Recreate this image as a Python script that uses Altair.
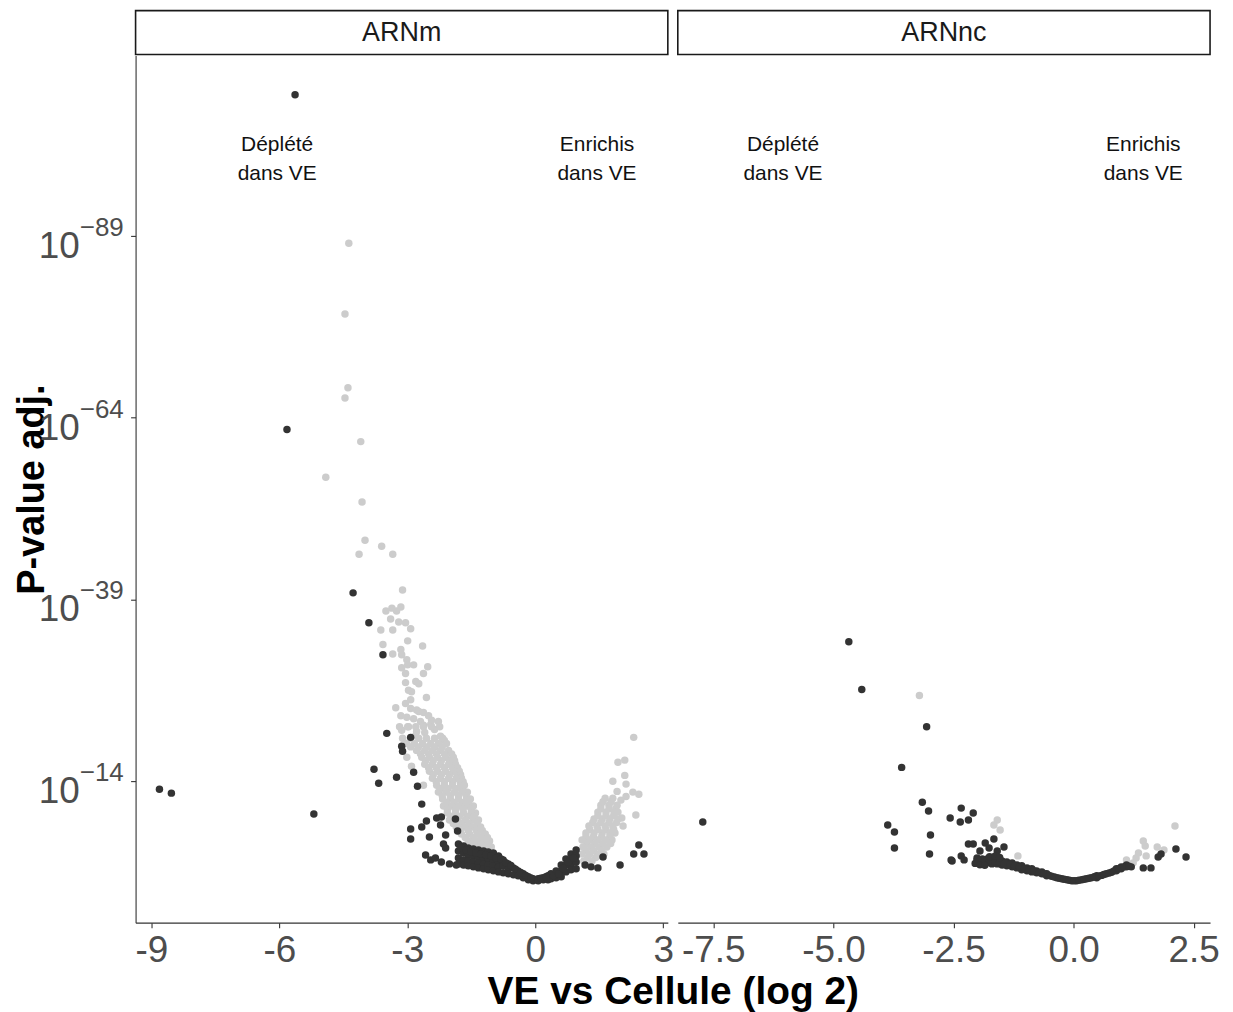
import altair as alt
import pandas as pd

# ---------------- data ----------------
panels = ["ARNm", "ARNnc"]

y_domain = [-5.45, 113.8]
y_tick_values = [14, 39, 64, 89]
y_tick_base = ["10", "10", "10", "10"]
y_tick_exp = ["\u221214", "\u221239", "\u221264", "\u221289"]

arnm_x_domain = [-9.37, 3.11]
arnm_x_ticks = [-9, -6, -3, 0, 3]
arnc_x_domain = [-8.24, 2.84]
arnc_x_ticks = [-7.5, -5.0, -2.5, 0.0, 2.5]

annot_text = ["D\u00e9pl\u00e9t\u00e9\ndans VE", "Enrichis\ndans VE"]
annot_x = [-6.05, 1.45]
annot_y = [101.5, 101.5]

x_title = "VE vs Cellule (log 2)"
y_title = "P-value adj."

# ARNm, dark points
arnm_dark = [
    (-5.63, 108.4), (-5.82, 62.36), (-8.81, 12.9), (-8.53, 12.36), (-5.19, 9.48),
    (-4.27, 39.9), (-3.90, 35.78), (-3.57, 31.4), (-3.48, 20.58), (-2.92, 20.03),
    (-3.13, 18.8), (-3.11, 18.11), (-3.78, 15.65), (-3.67, 13.73), (-3.25, 14.55),
    (-2.85, 15.23), (-2.76, 13.32), (-2.66, 10.85), (-2.55, 8.52), (-2.66, 7.70),
    (-2.92, 7.43), (-2.92, 6.06), (-2.48, 6.33), (-2.57, 3.86), (-2.45, 3.18),
    (-2.34, 3.45), (-2.20, 2.90), (-2.01, 2.63), (-1.85, 2.49), (-2.31, 8.93),
    (-2.20, 9.07), (-2.22, 7.97), (-2.10, 6.60), (-1.87, 8.79), (-1.82, 7.15),
    (-2.15, 5.37), (-2.10, 4.82),
    (1.59, 3.59), (1.99, 2.49), (2.43, 5.23), (2.31, 4.0), (2.55, 4.0),
    (1.17, 2.49), (1.31, 2.22), (1.47, 2.08),
    (-1.80, 5.37), (-1.80, 4.41), (-1.80, 3.45), (-1.80, 2.63),
    (-1.68, 5.10), (-1.68, 4.14), (-1.68, 3.18), (-1.68, 2.49),
    (-1.57, 4.82), (-1.57, 3.86), (-1.57, 3.04), (-1.57, 2.36),
    (-1.45, 4.69), (-1.45, 3.73), (-1.45, 2.90), (-1.45, 2.22),
    (-1.33, 4.55), (-1.33, 3.59), (-1.33, 2.77), (-1.33, 2.08),
    (-1.21, 4.41), (-1.21, 3.45), (-1.21, 2.63), (-1.21, 1.95),
    (-1.10, 4.27), (-1.10, 3.32), (-1.10, 2.49), (-1.10, 1.81),
    (-0.98, 4.14), (-0.98, 3.18), (-0.98, 2.36), (-0.98, 1.67),
    (-0.86, 3.73), (-0.86, 2.90), (-0.86, 2.22), (-0.86, 1.53),
    (-0.75, 3.18), (-0.75, 2.36), (-0.75, 1.40),
    (-0.63, 2.63), (-0.63, 1.95), (-0.63, 1.26),
    (-0.51, 2.08), (-0.51, 1.12), (-0.40, 1.67), (-0.40, 0.99),
    (-0.28, 1.26), (-0.28, 0.71), (-0.16, 0.85), (-0.16, 0.44),
    (-0.05, 0.58), (-0.05, 0.30), (0.07, 0.58), (0.07, 0.30),
    (0.19, 0.71), (0.19, 0.44), (0.30, 0.99), (0.30, 0.44),
    (0.37, 1.26), (0.37, 0.58), (0.49, 1.67), (0.49, 0.71),
    (0.61, 2.49), (0.61, 1.67), (0.61, 0.85),
    (0.72, 3.32), (0.72, 2.49), (0.72, 1.53),
    (0.84, 4.0), (0.84, 3.18), (0.84, 2.36), (0.84, 1.81),
    (0.96, 4.55), (0.96, 3.73), (0.96, 2.90), (0.96, 1.95),
    (-1.74, 4.9), (-1.62, 4.5), (-1.51, 4.3), (-1.39, 4.1), (-1.27, 4.0),
    (-1.16, 3.9), (-1.04, 3.7), (-0.92, 3.4), (-0.80, 3.3), (-0.69, 2.8),
    (-0.57, 2.4), (-0.46, 1.9), (-0.34, 1.45), (-0.22, 1.05), (-0.10, 0.7),
    (0.13, 0.65), (0.25, 0.85), (0.43, 1.0), (0.55, 1.25), (0.66, 2.0),
    (0.78, 2.85), (0.90, 3.4),
]

# ARNm, light points
arnm_light = [
    (-4.37, 87.98), (-4.46, 78.25), (-4.39, 68.1), (-4.46, 66.7), (-4.09, 60.7),
    (-4.91, 55.8), (-4.06, 52.4), (-3.99, 47.15), (-3.60, 46.3), (-4.13, 45.2),
    (-3.34, 45.2), (-3.11, 40.3), (-3.50, 37.4), (-3.36, 37.8), (-3.15, 37.97),
    (-3.25, 37.4), (-3.39, 36.3), (-3.20, 35.9), (-3.04, 35.8), (-3.62, 34.8),
    (-3.34, 34.8), (-2.92, 34.96), (-2.99, 33.3), (-2.64, 32.6), (-3.57, 32.8),
    (-3.34, 31.5), (-3.15, 32.1), (-3.13, 31.4), (-3.01, 30.7), (-2.99, 30.0),
    (-2.85, 30.0), (-2.52, 29.75), (-3.13, 29.6), (-3.04, 28.8), (-2.62, 28.8),
    (-3.04, 27.56), (-2.80, 27.7), (-2.73, 27.4), (-2.97, 26.5), (-2.90, 26.3),
    (-2.55, 25.5), (-2.92, 25.2), (-3.04, 24.7), (-3.27, 24.1), (-2.92, 24.0),
    (-2.78, 23.8), (-2.73, 23.6), (-2.62, 23.45), (-2.50, 23.0), (-3.15, 23.0),
    (-3.01, 22.8), (-2.85, 22.6), (-2.69, 22.2), (-2.43, 22.4), (-2.27, 22.2),
    (-2.45, 21.8), (-3.13, 21.0), (-2.78, 20.85), (-2.59, 20.7), (-2.22, 20.2),
    (-2.80, 20.3), (-2.97, 21.5), (-2.36, 21.1), (-2.62, 21.7), (-2.13, 19.6),
    (-2.90, 16.06), (-3.01, 17.3), (-2.62, 13.45),
    (-3.18, 21.5), (-2.99, 21.5), (-2.80, 21.5), (-2.62, 21.5), (-2.43, 21.5), (-2.24, 21.5),
    (-3.11, 19.9), (-2.92, 19.9), (-2.73, 19.9), (-2.55, 19.9), (-2.36, 19.9), (-2.17, 19.9),
    (-3.01, 19.2), (-2.83, 19.2), (-2.64, 19.2), (-2.45, 19.2), (-2.27, 19.2), (-2.08, 19.2),
    (-2.92, 18.72), (-2.74, 18.72), (-2.55, 18.72), (-2.36, 18.72), (-2.18, 18.72),
    (-2.78, 18.24), (-2.59, 18.24), (-2.41, 18.24), (-2.22, 18.24), (-2.03, 18.24),
    (-2.69, 17.76), (-2.50, 17.76), (-2.32, 17.76), (-2.13, 17.76), (-1.96, 17.76),
    (-2.66, 17.29), (-2.48, 17.29), (-2.29, 17.29), (-2.10, 17.29), (-1.92, 17.29),
    (-2.57, 16.81), (-2.39, 16.81), (-2.20, 16.81), (-2.01, 16.81), (-1.89, 16.81),
    (-2.59, 16.33), (-2.41, 16.33), (-2.22, 16.33), (-2.03, 16.33), (-1.87, 16.33),
    (-2.50, 15.85), (-2.32, 15.85), (-2.13, 15.85), (-1.94, 15.85), (-1.82, 15.85),
    (-2.48, 15.37), (-2.29, 15.37), (-2.10, 15.37), (-1.92, 15.37), (-1.78, 15.37),
    (-2.39, 14.89), (-2.20, 14.89), (-2.01, 14.89), (-1.83, 14.89), (-1.75, 14.89),
    (-2.41, 14.41), (-2.22, 14.41), (-2.03, 14.41), (-1.85, 14.41), (-1.73, 14.41),
    (-2.32, 13.93), (-2.13, 13.93), (-1.94, 13.93), (-1.76, 13.93), (-1.69, 13.93),
    (-2.31, 13.45), (-2.13, 13.45), (-1.94, 13.45), (-1.75, 13.45), (-1.66, 13.45),
    (-2.22, 12.97), (-2.04, 12.97), (-1.85, 12.97), (-1.70, 12.97),
    (-2.27, 12.5), (-2.08, 12.5), (-1.89, 12.5), (-1.71, 12.5), (-1.59, 12.5),
    (-2.18, 12.02), (-1.99, 12.02), (-1.80, 12.02), (-1.62, 12.02),
    (-2.17, 11.54), (-1.99, 11.54), (-1.80, 11.54), (-1.61, 11.54), (-1.52, 11.54),
    (-2.08, 11.06), (-1.90, 11.06), (-1.71, 11.06), (-1.56, 11.06),
    (-2.15, 10.58), (-1.96, 10.58), (-1.78, 10.58), (-1.59, 10.58), (-1.45, 10.58),
    (-2.06, 10.1), (-1.87, 10.1), (-1.69, 10.1), (-1.50, 10.1),
    (-2.06, 9.62), (-1.87, 9.62), (-1.68, 9.62), (-1.50, 9.62), (-1.40, 9.62),
    (-1.97, 9.14), (-1.78, 9.14), (-1.59, 9.14), (-1.43, 9.14),
    (-2.01, 8.66), (-1.82, 8.66), (-1.64, 8.66), (-1.45, 8.66), (-1.33, 8.66),
    (-1.92, 8.18), (-1.73, 8.18), (-1.55, 8.18), (-1.36, 8.18),
    (-1.85, 7.70), (-1.66, 7.70), (-1.47, 7.70), (-1.28, 7.70),
    (-1.76, 7.22), (-1.57, 7.22), (-1.38, 7.22), (-1.24, 7.22),
    (-1.73, 6.74), (-1.54, 6.74), (-1.36, 6.74), (-1.17, 6.74),
    (-1.64, 6.26), (-1.45, 6.26), (-1.27, 6.26), (-1.12, 6.26),
    (-1.57, 5.78), (-1.38, 5.78), (-1.19, 5.78), (-1.07, 5.78),
    (-1.47, 5.37), (-1.28, 5.37), (-1.10, 5.37),
    (-1.38, 4.96), (-1.19, 4.96), (-1.03, 4.96),
    (2.31, 20.03), (1.94, 16.6), (2.10, 16.9), (2.10, 14.8), (1.82, 14.0),
    (2.13, 13.6), (1.92, 12.6), (2.29, 12.5), (2.43, 12.2), (2.13, 11.9),
    (2.01, 11.4), (2.36, 9.34), (2.03, 8.93), (2.06, 7.83), (1.87, 6.88),
    (1.64, 11.67), (1.82, 11.67), (1.59, 11.19), (1.78, 11.19),
    (1.54, 10.71), (1.73, 10.71), (1.92, 10.71), (1.54, 10.23), (1.73, 10.23), (1.89, 10.23),
    (1.47, 9.75), (1.66, 9.75), (1.85, 9.75), (1.94, 9.75), (1.47, 9.27), (1.66, 9.27), (1.84, 9.27),
    (1.38, 8.79), (1.57, 8.79), (1.75, 8.79), (1.94, 8.79),
    (1.35, 8.31), (1.54, 8.31), (1.73, 8.31), (1.91, 8.31),
    (1.26, 7.83), (1.45, 7.83), (1.64, 7.83), (1.82, 7.83),
    (1.28, 7.35), (1.47, 7.35), (1.66, 7.35), (1.84, 7.35),
    (1.19, 6.88), (1.38, 6.88), (1.57, 6.88), (1.75, 6.88),
    (1.19, 6.40), (1.37, 6.40), (1.56, 6.40), (1.75, 6.40),
    (1.10, 5.92), (1.28, 5.92), (1.47, 5.92), (1.66, 5.92), (1.80, 5.92),
    (1.21, 5.44), (1.40, 5.44), (1.59, 5.44), (1.77, 5.44),
    (1.12, 4.96), (1.31, 4.96), (1.50, 4.96), (1.68, 4.96),
    (1.19, 4.48), (1.37, 4.48), (1.56, 4.48),
    (1.10, 4.0), (1.28, 4.0), (1.47, 4.0), (1.61, 4.0),
    (1.23, 3.52), (1.42, 3.52),
    (1.14, 3.04), (1.33, 3.04),
]

# ARNnc, dark points
arnc_dark = [
    (-4.68, 33.18), (-4.41, 26.6), (-3.06, 21.5), (-3.58, 15.9), (-3.15, 11.1),
    (-3.02, 9.9), (-2.57, 8.93), (-3.87, 7.97), (-3.73, 7.01), (-2.98, 6.6),
    (-3.73, 4.82), (-3.00, 4.0), (-2.53, 3.04), (-7.72, 8.38), (-2.34, 10.3),
    (-2.09, 9.62), (-2.19, 8.66), (-2.36, 8.38), (-2.19, 5.37), (-2.09, 5.37),
    (-1.84, 5.51), (-1.66, 6.06), (-1.45, 4.96), (-1.76, 4.82), (-2.34, 3.73),
    (-2.28, 3.18), (-2.55, 3.18), (-2.01, 3.45), (-1.95, 4.41), (-1.59, 4.41),
    (1.45, 2.08), (1.61, 2.08), (1.76, 3.59), (1.82, 4.0), (2.13, 4.69), (2.34, 3.59),
    (-2.01, 3.18), (-1.90, 3.32), (-1.90, 2.90), (-1.80, 3.32), (-1.80, 2.77),
    (-1.70, 3.32), (-1.70, 2.63), (-1.59, 3.32), (-1.59, 2.63), (-1.49, 3.04),
    (-1.49, 2.49), (-1.39, 2.90), (-1.39, 2.36), (-1.28, 2.77), (-1.28, 2.22),
    (-1.18, 2.49), (-1.18, 2.08), (-1.08, 2.36), (-1.08, 1.81), (-0.97, 2.08),
    (-0.97, 1.67), (-0.87, 1.95), (-0.87, 1.53), (-0.77, 1.67), (-0.77, 1.40),
    (-0.66, 1.53), (-0.66, 1.26), (-0.56, 1.26), (-0.56, 0.99), (-0.46, 0.92),
    (-0.35, 0.71), (-0.25, 0.58), (-0.14, 0.44), (-0.04, 0.30), (0.06, 0.30),
    (0.17, 0.44), (0.27, 0.58), (0.37, 0.71), (0.48, 0.99), (0.48, 0.71),
    (0.58, 1.05), (0.68, 1.26), (0.79, 1.47), (0.89, 1.95), (0.89, 1.67),
    (0.99, 2.22), (0.99, 1.95), (1.10, 2.49), (1.10, 2.22), (1.20, 2.22),
    (-1.95, 3.05), (-1.85, 3.05), (-1.75, 2.98), (-1.64, 2.98), (-1.54, 2.85),
    (-1.44, 2.70), (-1.33, 2.56), (-1.23, 2.39), (-1.13, 2.19), (-1.02, 1.98),
    (-0.92, 1.81), (-0.82, 1.64), (-0.71, 1.46), (-0.61, 1.26), (-0.51, 1.05),
    (-0.40, 0.82), (-0.30, 0.65), (-0.20, 0.51), (-0.09, 0.37), (0.01, 0.30),
    (0.11, 0.37), (0.22, 0.51), (0.32, 0.65), (0.43, 0.85), (0.53, 0.95),
    (0.63, 1.16), (0.74, 1.37), (0.84, 1.67), (0.94, 1.95), (1.05, 2.22), (1.15, 2.30),
    (-2.05, 2.70), (-1.95, 2.50), (-1.85, 2.45), (-1.75, 3.6), (-1.64, 3.7), (-1.54, 3.5),
]

# ARNnc, light points
arnc_light = [
    (-3.21, 25.8), (-1.59, 8.66), (-1.66, 7.97), (-1.53, 7.29), (-1.16, 3.73),
    (1.10, 3.18), (1.35, 4.14), (1.45, 5.78), (1.49, 5.1), (1.30, 3.45),
    (1.51, 3.73), (1.74, 4.96), (1.88, 4.55), (2.11, 7.83), (1.24, 2.77),
]

# ---------------- styling ----------------
FONT = "Liberation Sans"
DARK = "#333333"
LIGHT = "#cccccc"
AXIS_COL = "#333333"
LABEL_COL = "#4d4d4d"
W = 534
H = 870


def pts_frame(light, dark):
    rows = [(x, y, "light") for x, y in light] + [(x, y, "dark") for x, y in dark]
    return pd.DataFrame(rows, columns=["x", "y", "group"])


def make_panel(name, light, dark, x_domain, x_ticks, x_fmt, left):
    xs = alt.Scale(domain=x_domain, nice=False, zero=False)
    ys = alt.Scale(domain=y_domain, nice=False, zero=False)

    x_axis_kw = dict(
        values=x_ticks, format=x_fmt,
        labelExpr="replace(datum.label, '\u2212', '-')",
        labelFontSize=37, labelColor=LABEL_COL, labelFont=FONT,
        labelPadding=5, labelFlush=False, labelOverlap=False,
        tickSize=5, tickColor=AXIS_COL, tickWidth=1.1,
        domainColor=AXIS_COL, domainWidth=1.1, grid=False,
    )
    if left:
        x_axis = alt.Axis(
            title=x_title, titleFontSize=39, titleFontWeight="bold",
            titleFont=FONT, titleColor="black", titleX=539, titleY=81,
            titleAlign="center", titleBaseline="alphabetic", titleAngle=0,
            **x_axis_kw)
        y_axis = alt.Axis(
            values=y_tick_values, labels=False, tickSize=5, tickColor=AXIS_COL,
            tickWidth=1.1, domainColor=AXIS_COL, domainWidth=1.1, grid=False,
            title=y_title, titleFontSize=38, titleFontWeight="bold",
            titleFont=FONT, titleColor="black", titleX=-92, titleY=H / 2,
            titleAngle=-90, titleAlign="center", titleBaseline="alphabetic")
    else:
        x_axis = alt.Axis(title=None, **x_axis_kw)
        y_axis = None

    points = alt.Chart(pts_frame(light, dark)).mark_circle(
        size=56, opacity=1
    ).encode(
        x=alt.X("x:Q", scale=xs, axis=x_axis),
        y=alt.Y("y:Q", scale=ys, axis=y_axis),
        color=alt.Color("group:N", scale=alt.Scale(domain=["light", "dark"],
                                                   range=[LIGHT, DARK]), legend=None),
    )

    annot = alt.Chart(pd.DataFrame({"x": annot_x, "y": annot_y, "t": annot_text})).mark_text(
        font=FONT, fontSize=21, lineBreak="\n", lineHeight=29, color="#111111",
        align="center", baseline="middle"
    ).encode(x=alt.X("x:Q", scale=xs), y=alt.Y("y:Q", scale=ys), text="t:N")

    strip_df = pd.DataFrame({"label": [name]})
    strip_box = alt.Chart(strip_df).mark_rect(
        fill="white", stroke="#1a1a1a", strokeWidth=1.6, clip=False
    ).encode(x=alt.value(0), x2=alt.value(W), y=alt.value(-45), y2=alt.value(-1))
    strip_txt = alt.Chart(strip_df).mark_text(
        font=FONT, fontSize=27, color="#1a1a1a", align="center", baseline="middle"
    ).encode(x=alt.value(W / 2), y=alt.value(-23), text="label:N")

    layers = [points, annot, strip_box, strip_txt]

    if left:
        tick_df = pd.DataFrame({"y": y_tick_values, "base": y_tick_base, "exp": y_tick_exp})
        base_txt = alt.Chart(tick_df).mark_text(
            font=FONT, fontSize=37, color=LABEL_COL, align="right",
            baseline="alphabetic", dy=22
        ).encode(x=alt.value(-56), y=alt.Y("y:Q", scale=ys), text="base:N")
        exp_txt = alt.Chart(tick_df).mark_text(
            font=FONT, fontSize=26, color=LABEL_COL, align="left",
            baseline="alphabetic", dy=0
        ).encode(x=alt.value(-56), y=alt.Y("y:Q", scale=ys), text="exp:N")
        layers += [base_txt, exp_txt]

    return alt.layer(*layers).properties(width=W, height=H)


left_panel = make_panel(panels[0], arnm_light, arnm_dark, arnm_x_domain, arnm_x_ticks, "d", True)
right_panel = make_panel(panels[1], arnc_light, arnc_dark, arnc_x_domain, arnc_x_ticks, ".1f", False)

chart = alt.hconcat(left_panel, right_panel, spacing=10, bounds="flush").properties(
    padding={"left": 6, "top": 0, "right": 5, "bottom": 0},
    background="white",
).configure_view(stroke=None).configure_axis(grid=False)

chart.save("out.html", embed_options={"renderer": "svg", "actions": False})
